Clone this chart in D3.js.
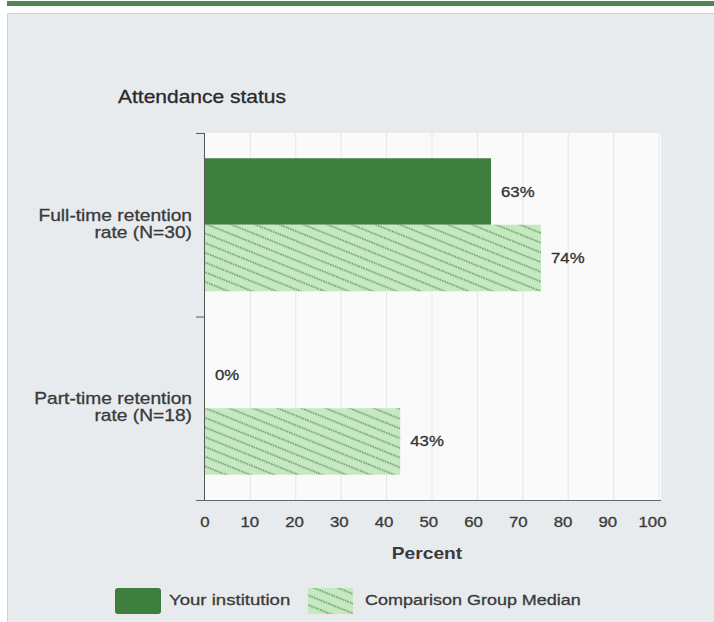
<!DOCTYPE html>
<html><head><meta charset="utf-8">
<script src="https://cdn.jsdelivr.net/npm/d3@7"></script>
<style>
html,body{margin:0;padding:0;background:#fff;}
svg{display:block;font-family:"Liberation Sans",Arial,sans-serif;}
</style></head>
<body>
<svg id="c" width="714" height="622"></svg>
<script>
const categories = ["Full-time retention\nrate (N=30)", "Part-time retention\nrate (N=18)"];
const seriesNames = ["Your institution", "Comparison Group Median"];
const yourInstitution = [63, 0];
const comparisonMedian = [74, 43];
const xTicks = [0,10,20,30,40,50,60,70,80,90,100];
const title = "Attendance status";
const xTitle = "Percent";

const svg = d3.select("#c");
const dark = "#3d7d3d";
const light = "#c6e9c1";
const dots = "#4f8a4f";
const SX = 1.2; // horizontal stretch of text as in reference

function txt(parent, x, y, s, size, anchor, weight, fill){
  const c = fill||"#3a3a3a";
  return parent.append("text")
    .attr("transform",`translate(${x},${y}) scale(${SX},1)`)
    .attr("text-anchor",anchor||"start").attr("font-size",size)
    .attr("font-weight",weight||"normal").attr("fill",c)
    .attr("stroke",c).attr("stroke-width",weight==="bold"?0:0.3).text(s);
}

// pattern
const defs = svg.append("defs");
const pat = defs.append("pattern").attr("id","hatch").attr("patternUnits","userSpaceOnUse")
  .attr("width",10).attr("height",9).attr("patternTransform","rotate(22)");
pat.append("rect").attr("width",10).attr("height",9).attr("fill",light);
pat.append("line").attr("x1",0).attr("x2",10).attr("y1",4.5).attr("y2",4.5)
  .attr("stroke",dots).attr("stroke-width",1.4).attr("stroke-dasharray","1.4,1.1");

// top green bar and panel
svg.append("rect").attr("x",7).attr("y",1).attr("width",707).attr("height",5).attr("fill","#4d874e");
svg.append("rect").attr("x",7.5).attr("y",13.5).attr("width",720).attr("height",620).attr("fill","#e8ebee").attr("stroke","#d2d2d2");

const m = {left:205, right:659, top:133, bottom:500};
const x = d3.scaleLinear().domain([0,100]).range([m.left, m.right]);
const y = d3.scaleBand().domain(categories).range([m.top, m.bottom]).paddingInner(0).paddingOuter(0);
const inner = d3.scaleBand().domain(seriesNames).range([0, y.bandwidth()]).paddingInner(0).paddingOuter(0.38);

// plot background
svg.append("rect").attr("x",m.left).attr("y",m.top).attr("width",m.right+2-m.left).attr("height",m.bottom-m.top).attr("fill","#fafafa");

// grid
svg.append("g").selectAll("line").data(xTicks.slice(1)).join("line")
  .attr("x1",d=>x(d)).attr("x2",d=>x(d)).attr("y1",m.top).attr("y2",m.bottom)
  .attr("stroke","#e6e6ea").attr("stroke-width",1);

// bars
const data = categories.map((c,i)=>({c, vals:[{s:seriesNames[0],v:yourInstitution[i]},{s:seriesNames[1],v:comparisonMedian[i]}]}));
const g = svg.append("g");
data.forEach(d=>{
  d.vals.forEach((e,j)=>{
    const yy = y(d.c)+inner(e.s);
    g.append("rect").attr("x",x(0)).attr("y",yy).attr("width",x(e.v)-x(0)).attr("height",inner.bandwidth())
      .attr("fill", j===0?dark:"url(#hatch)");
    txt(g, x(e.v)+10, yy+inner.bandwidth()/2+5, e.v+"%", 14, "start", "normal", "#333");
  });
});

// y axis
svg.append("line").attr("x1",m.left-0.5).attr("x2",m.left-0.5).attr("y1",m.top).attr("y2",m.bottom).attr("stroke","#555");
const bounds = [m.top, y(categories[1]), m.bottom];
svg.append("g").selectAll("line").data(bounds).join("line")
  .attr("x1",m.left-9).attr("x2",m.left).attr("y1",d=>d+0.5).attr("y2",d=>d+0.5).attr("stroke","#555");
categories.forEach(c=>{
  const lines = c.split("\n");
  const cy = y(c)+y.bandwidth()/2;
  lines.forEach((l,i)=>txt(svg, 192, cy-4+i*17, l, 16, "end", "normal", "#3a3a3a"));
});

// x axis
svg.append("line").attr("x1",m.left-9).attr("x2",m.right+2).attr("y1",m.bottom+0.5).attr("y2",m.bottom+0.5).attr("stroke","#666");
xTicks.forEach(d=>txt(svg, x(d)-d*0.065, m.bottom+27, String(d), 14, "middle", "normal", "#3a3a3a"));
txt(svg, 427, 559, xTitle, 16, "middle", "bold", "#3a3a3a");

// title
txt(svg, 118, 103, title, 17.5, "start", "normal", "#2a2a2a");

// legend
const lg = svg.append("g");
lg.append("rect").attr("x",115).attr("y",588).attr("width",46).attr("height",26).attr("rx",3).attr("fill",dark);
txt(lg, 169, 605, seriesNames[0], 15.5, "start", "normal", "#3a3a3a");
lg.append("rect").attr("x",308).attr("y",588).attr("width",45).attr("height",26).attr("fill","url(#hatch)");
txt(lg, 365, 605, seriesNames[1], 15, "start", "normal", "#3a3a3a");
</script>
</body></html>
